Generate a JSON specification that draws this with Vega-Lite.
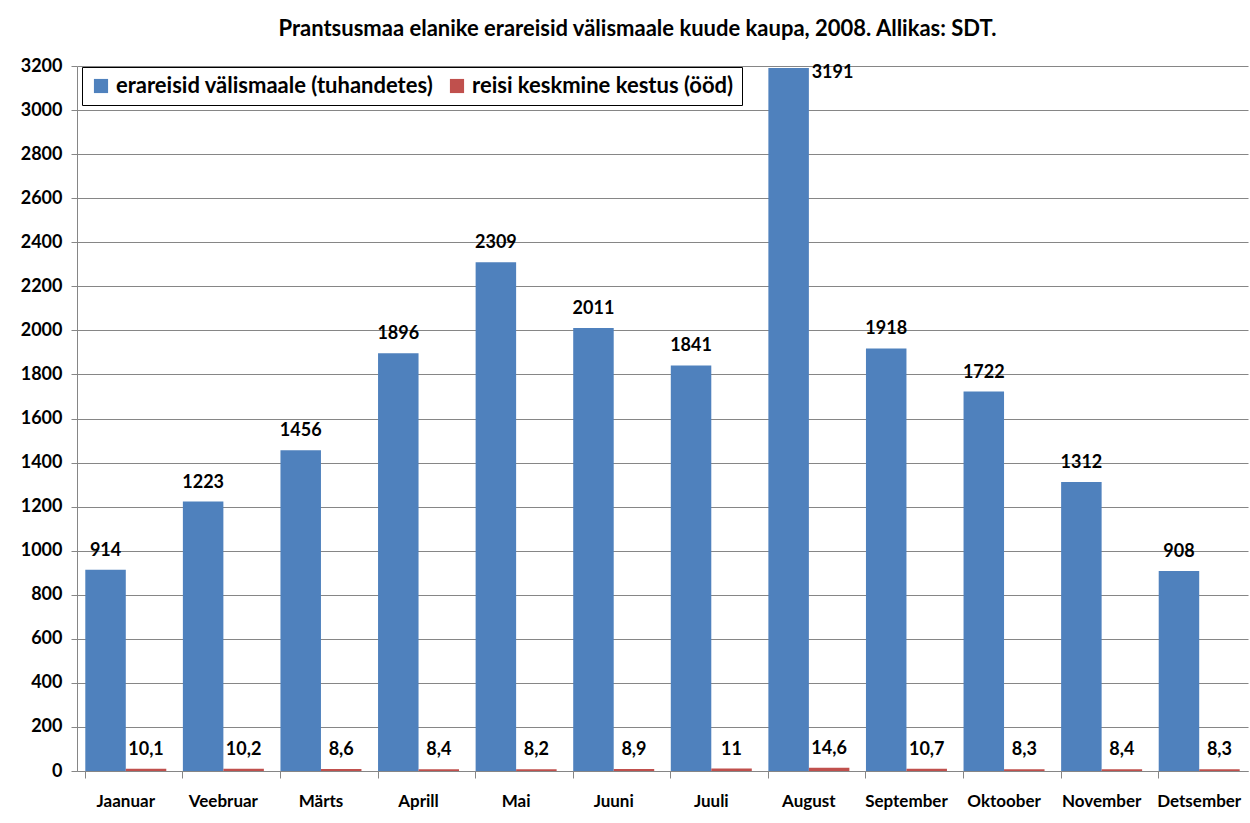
{
  "$schema": "https://vega.github.io/schema/vega-lite/v6.json",
  "autosize": "none",
  "width": 1171,
  "height": 705,
  "padding": {"left": 77, "top": 66, "right": 2, "bottom": 52},
  "background": "white",
  "title": {
    "text": "Prantsusmaa elanike erareisid välismaale kuude kaupa, 2008. Allikas: SDT.",
    "font": "Lato",
    "fontSize": 22,
    "fontWeight": "bold",
    "color": "black",
    "anchor": "middle",
    "dx": -25,
    "offset": 16
  },
  "config": {
    "locale": {"number": {"decimal": ",", "thousands": "\u00a0", "grouping": [3], "currency": ["", " €"]}},
    "view": {"stroke": null},
    "font": "Lato"
  },
  "data": {
    "values": [
      {"month": "Jaanuar", "series": "erareisid välismaale (tuhandetes)", "value": 914},
      {"month": "Veebruar", "series": "erareisid välismaale (tuhandetes)", "value": 1223},
      {"month": "Märts", "series": "erareisid välismaale (tuhandetes)", "value": 1456},
      {"month": "Aprill", "series": "erareisid välismaale (tuhandetes)", "value": 1896},
      {"month": "Mai", "series": "erareisid välismaale (tuhandetes)", "value": 2309},
      {"month": "Juuni", "series": "erareisid välismaale (tuhandetes)", "value": 2011},
      {"month": "Juuli", "series": "erareisid välismaale (tuhandetes)", "value": 1841},
      {"month": "August", "series": "erareisid välismaale (tuhandetes)", "value": 3191},
      {"month": "September", "series": "erareisid välismaale (tuhandetes)", "value": 1918},
      {"month": "Oktoober", "series": "erareisid välismaale (tuhandetes)", "value": 1722},
      {"month": "November", "series": "erareisid välismaale (tuhandetes)", "value": 1312},
      {"month": "Detsember", "series": "erareisid välismaale (tuhandetes)", "value": 908},
      {"month": "Jaanuar", "series": "reisi keskmine kestus (ööd)", "value": 10.1},
      {"month": "Veebruar", "series": "reisi keskmine kestus (ööd)", "value": 10.2},
      {"month": "Märts", "series": "reisi keskmine kestus (ööd)", "value": 8.6},
      {"month": "Aprill", "series": "reisi keskmine kestus (ööd)", "value": 8.4},
      {"month": "Mai", "series": "reisi keskmine kestus (ööd)", "value": 8.2},
      {"month": "Juuni", "series": "reisi keskmine kestus (ööd)", "value": 8.9},
      {"month": "Juuli", "series": "reisi keskmine kestus (ööd)", "value": 11},
      {"month": "August", "series": "reisi keskmine kestus (ööd)", "value": 14.6},
      {"month": "September", "series": "reisi keskmine kestus (ööd)", "value": 10.7},
      {"month": "Oktoober", "series": "reisi keskmine kestus (ööd)", "value": 8.3},
      {"month": "November", "series": "reisi keskmine kestus (ööd)", "value": 8.4},
      {"month": "Detsember", "series": "reisi keskmine kestus (ööd)", "value": 8.3}
    ]
  },
  "encoding": {
    "x": {
      "field": "month",
      "type": "nominal",
      "sort": null,
      "scale": {"paddingInner": 0.17, "paddingOuter": 0.085},
      "axis": {
        "title": null,
        "labelAngle": 0,
        "labelFont": "Lato",
        "labelFontSize": 17,
        "labelFontWeight": "bold",
        "labelColor": "black",
        "labelPadding": 15,
        "domainColor": "#868686",
        "tickColor": "#868686",
        "tickSize": 7,
        "bandPosition": 0,
        "grid": false
      }
    },
    "xOffset": {
      "field": "series",
      "type": "nominal",
      "sort": ["erareisid välismaale (tuhandetes)", "reisi keskmine kestus (ööd)"],
      "scale": {"paddingInner": 0, "paddingOuter": 0}
    },
    "y": {
      "field": "value",
      "type": "quantitative",
      "scale": {"domain": [0, 3200], "nice": false},
      "axis": {
        "title": null,
        "values": [0, 200, 400, 600, 800, 1000, 1200, 1400, 1600, 1800, 2000, 2200, 2400, 2600, 2800, 3000, 3200],
        "format": "d",
        "labelFont": "Lato",
        "labelFontSize": 18,
        "labelFontWeight": "bold",
        "labelColor": "black",
        "labelPadding": 9,
        "domainColor": "#868686",
        "tickColor": "#868686",
        "tickSize": 6,
        "gridColor": "#868686",
        "gridWidth": 1
      }
    }
  },
  "layer": [
    {
      "mark": {"type": "bar"},
      "encoding": {
        "color": {
          "field": "series",
          "type": "nominal",
          "sort": ["erareisid välismaale (tuhandetes)", "reisi keskmine kestus (ööd)"],
          "scale": {"range": ["#4F81BD", "#C0504D"]},
          "legend": {
            "title": null,
            "orient": "none",
            "legendX": 5,
            "legendY": 1,
            "direction": "horizontal",
            "strokeColor": "black",
            "fillColor": "white",
            "padding": 8,
            "columnPadding": 12,
            "symbolType": "square",
            "symbolSize": 200,
            "symbolStrokeWidth": 0,
            "symbolOpacity": 1,
            "labelFont": "Lato",
            "labelFontSize": 22,
            "labelFontWeight": "bold",
            "labelColor": "black",
            "labelLimit": 500
          }
        }
      }
    },
    {
      "transform": [{"filter": "datum.value < 3000"}],
      "mark": {"type": "text", "baseline": "middle", "dy": -19, "font": "Lato", "fontSize": 18, "fontWeight": "bold", "color": "black"},
      "encoding": {
        "text": {"field": "value", "type": "quantitative", "format": ".1~f"}
      }
    },
    {
      "transform": [{"filter": "datum.value >= 3000"}],
      "mark": {"type": "text", "align": "left", "baseline": "middle", "dx": 23, "dy": 5, "font": "Lato", "fontSize": 18, "fontWeight": "bold", "color": "black"},
      "encoding": {
        "text": {"field": "value", "type": "quantitative", "format": ".1~f"}
      }
    }
  ]
}
